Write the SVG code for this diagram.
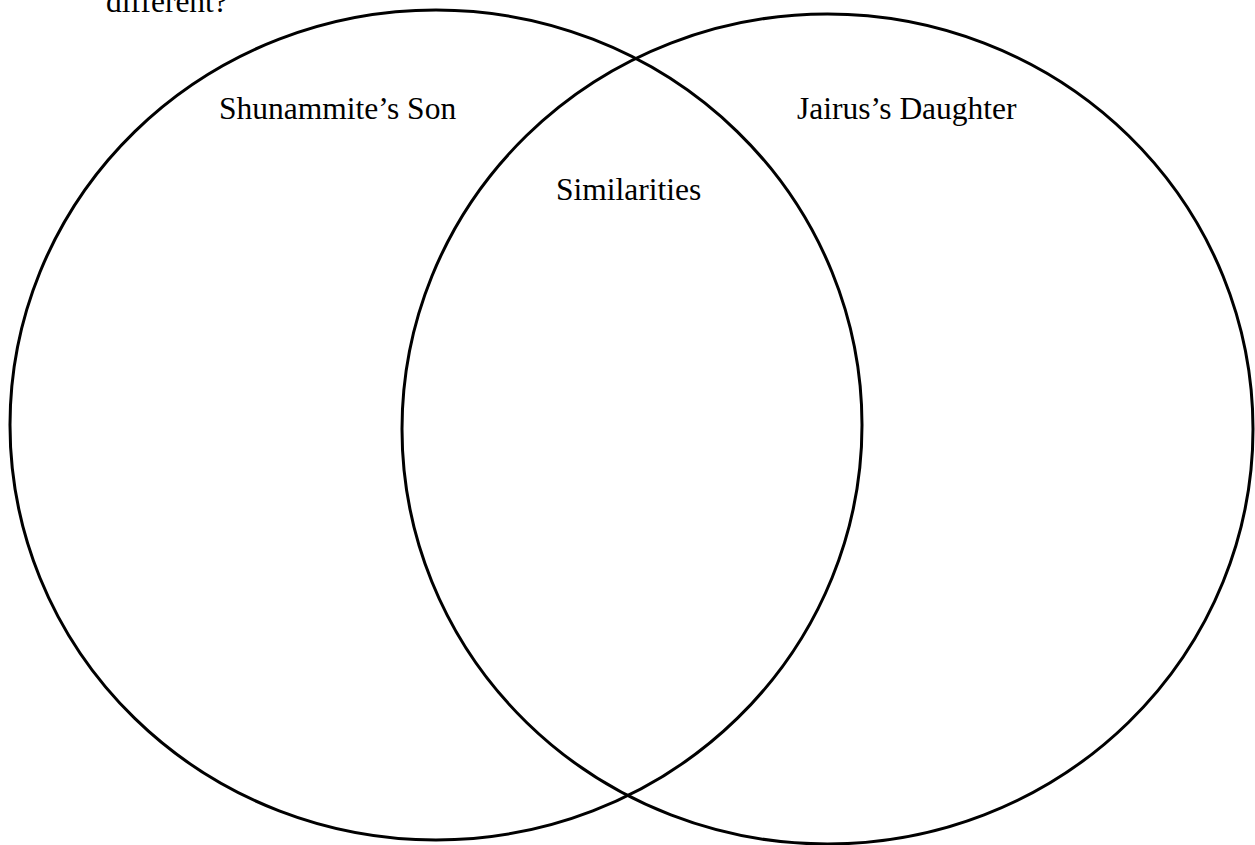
<svg xmlns="http://www.w3.org/2000/svg" width="1255" height="845" viewBox="0 0 1255 845">
<style>
.c{fill:none;stroke:#000;stroke-width:3}
.t{font-family:"Liberation Serif","Times New Roman",serif;font-size:31.5px;fill:#000}
</style>
<rect width="1255" height="845" fill="#fff"/>
<text class="t" x="106" y="12">different?</text>
<g id="left">
<ellipse class="c" cx="436" cy="425" rx="426" ry="415"/>
<text class="t" x="219" y="119">Shunammite’s Son</text>
</g>
<g id="right">
<ellipse class="c" cx="827.5" cy="429" rx="425.5" ry="415"/>
<text class="t" x="797" y="119">Jairus’s Daughter</text>
</g>
<g id="overlap">
<text class="t" x="556" y="200">Similarities</text>
</g>
<g id="connectors"/>
</svg>
